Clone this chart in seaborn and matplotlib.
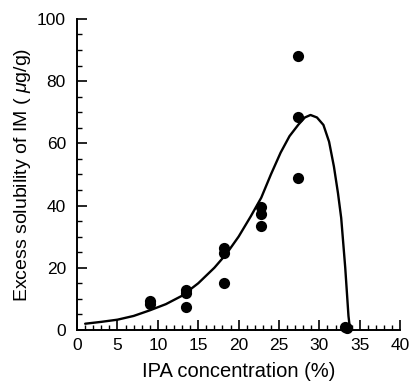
import matplotlib
matplotlib.use("Agg")
import matplotlib.pyplot as plt
import seaborn as sns
import pandas as pd
from matplotlib.ticker import MultipleLocator

# measured points
ipa_conc = [9, 9, 13.5, 13.5, 13.5, 18.2, 18.2, 18.2, 22.8, 22.8, 22.8, 27.3, 27.3, 27.3, 33.2, 33.4]
excess_sol = [8.3, 9.2, 12.8, 11.8, 7.5, 26.5, 24.8, 15.2, 39.5, 37.2, 33.5, 88.2, 68.5, 48.8, 1.0, 0.6]

# fitted curve
curve_x = [1, 3, 5, 7, 9, 11, 13, 15, 17, 18.5, 20, 21.5, 22.8, 24, 25.2, 26.3, 27.4, 28.2, 28.9, 29.7, 30.5, 31.2, 31.8, 32.3, 32.7, 33.2, 33.6, 33.8]
curve_y = [2.0, 2.6, 3.3, 4.5, 6.3, 8.3, 11, 15, 20, 24.5, 30, 36.5, 42.5, 50, 57, 62.3, 66, 68.3, 69.1, 68.3, 65.9, 60.5, 52.5, 44, 36, 20, 4.5, 0]

sns.set_style("ticks", {"xtick.direction": "in", "ytick.direction": "in"})
plt.rcParams['font.family'] = ['Liberation Sans', 'DejaVu Sans']
plt.rcParams['mathtext.fontset'] = 'custom'
plt.rcParams['mathtext.it'] = 'Liberation Sans:italic'
plt.rcParams['mathtext.rm'] = 'Liberation Sans'
plt.rcParams['xtick.direction'] = 'in'
plt.rcParams['ytick.direction'] = 'in'

fig = plt.figure(figsize=(4.10, 3.85), dpi=100)
ax = fig.add_axes([0.188, 0.143, 0.788, 0.808])

df_pts = pd.DataFrame({"x": ipa_conc, "y": excess_sol})
df_curve = pd.DataFrame({"x": curve_x, "y": curve_y})

sns.lineplot(data=df_curve, x="x", y="y", ax=ax, color="black", linewidth=1.7, sort=False)
sns.scatterplot(data=df_pts, x="x", y="y", ax=ax, color="black", s=65, edgecolor="black", linewidth=0, zorder=3, clip_on=False)

ax.set_xlim(0, 40)
ax.set_ylim(0, 100)
ax.xaxis.set_major_locator(MultipleLocator(5))
ax.xaxis.set_minor_locator(MultipleLocator(1))
ax.yaxis.set_major_locator(MultipleLocator(20))
ax.yaxis.set_minor_locator(MultipleLocator(5))
ax.tick_params(which="major", direction="in", length=7, width=1.2, labelsize=12.5, pad=8, colors="black")
ax.tick_params(axis="x", which="major", pad=6)
ax.tick_params(which="minor", direction="in", length=3.5, width=1.0, colors="black")
for s in ["top", "right"]:
    ax.spines[s].set_visible(False)
for s in ["left", "bottom"]:
    ax.spines[s].set_linewidth(1.4)
    ax.spines[s].set_color("black")

ax.set_xlabel("IPA concentration (%)", fontsize=14.5, labelpad=6, color="black")
ax.set_ylabel(r"Excess solubility of IM ( $\mu$g/g)", fontsize=14, labelpad=3, color="black")

fig.savefig("out.png", dpi=100)
